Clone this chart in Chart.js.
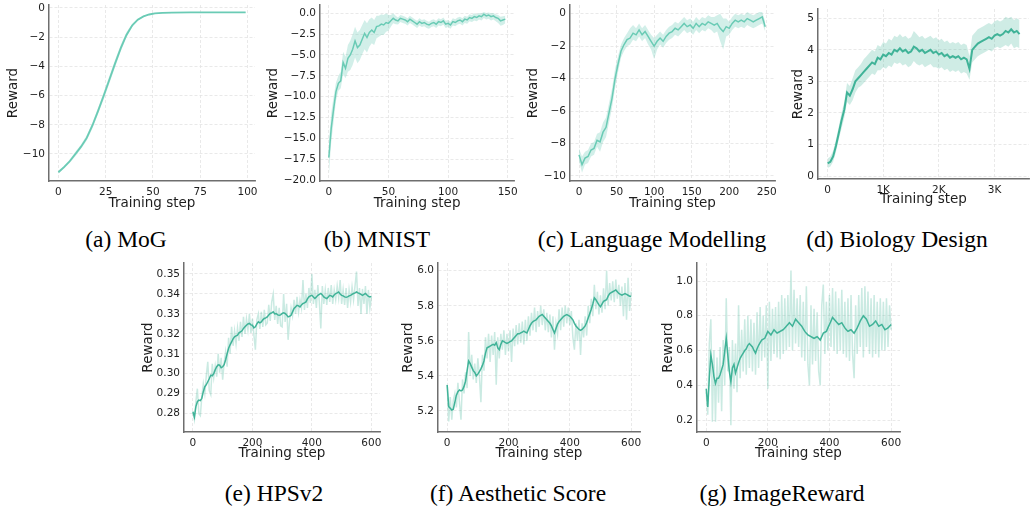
<!DOCTYPE html>
<html><head><meta charset="utf-8">
<script src="https://cdn.jsdelivr.net/npm/chart.js@4.4.1/dist/chart.umd.min.js"></script>
<style>
html,body{margin:0;padding:0;background:#fff;}
body{width:1030px;height:508px;position:relative;overflow:hidden;}
canvas{position:absolute;}
.cap{position:absolute;font-family:'Liberation Serif','Times New Roman',serif;font-size:23.5px;line-height:24px;color:#000;white-space:nowrap;transform:translateX(-50%);}
</style></head><body>
<div class="cap" style="left:126px;top:227px">(a) MoG</div>
<div class="cap" style="left:377px;top:227px">(b) MNIST</div>
<div class="cap" style="left:652px;top:227px">(c) Language Modelling</div>
<div class="cap" style="left:897px;top:227px">(d) Biology Design</div>
<div class="cap" style="left:274px;top:481px">(e) HPSv2</div>
<div class="cap" style="left:518px;top:481px">(f) Aesthetic Score</div>
<div class="cap" style="left:782px;top:481px">(g) ImageReward</div>
<script>
// ---------- (a) MoG ----------
const aSteps = [0,3,6,9,12,15,18,21,24,27,30,33,36,39,42,45,48,51,55,60,70,80,90,99];
const aMean = [-11.25,-10.9,-10.5,-10.0,-9.5,-8.9,-8.05,-7.05,-6.0,-4.9,-3.8,-2.75,-1.85,-1.2,-0.8,-0.58,-0.45,-0.38,-0.34,-0.32,-0.31,-0.31,-0.31,-0.31];
const aLow = [-11.35,-11.0,-10.62,-10.15,-9.65,-9.08,-8.25,-7.27,-6.25,-5.15,-4.05,-2.97,-2.03,-1.32,-0.88,-0.63,-0.49,-0.41,-0.37,-0.35,-0.34,-0.34,-0.34,-0.34];
const aHigh = [-11.15,-10.8,-10.38,-9.85,-9.35,-8.72,-7.85,-6.83,-5.75,-4.65,-3.55,-2.53,-1.67,-1.08,-0.72,-0.53,-0.41,-0.35,-0.31,-0.29,-0.28,-0.28,-0.28,-0.28];
const aXTicks = [0,25,50,75,100];
const aYTicks = [-10,-8,-6,-4,-2,0];

// ---------- (b) MNIST ----------
const bSteps = [0,2,4,6,8,10,12,14,16,18,20,22,24,26,28,30,32,34,36,38,40,42,44,46,48,50,52,54,56,58,60,62,64,66,68,70,72,74,76,78,80,82,84,86,88,90,92,94,96,98,100,102,104,106,108,110,112,114,116,118,120,122,124,126,128,130,132,134,136,138,140,142,144,146,148];
const bMean = [-17.3,-13.8,-11.5,-9.4,-8.4,-8.1,-5.9,-6.6,-5.4,-5.0,
 -4.3,-3.3,-4.1,-3.8,-3.1,-2.4,-2.9,-2.3,-2.0,-2.3,
 -1.6,-1.5,-1.3,-1.4,-1.1,-1.2,-0.9,-0.6,-0.8,-0.9,
 -0.6,-0.7,-0.8,-1.0,-0.7,-0.9,-1.1,-1.3,-1.0,-1.2,
 -1.1,-1.3,-1.4,-1.2,-1.1,-1.3,-1.0,-1.1,-0.9,-1.3,
 -1.2,-1.4,-1.0,-1.1,-0.9,-0.8,-1.0,-0.7,-0.8,-0.5,
 -0.6,-0.4,-0.5,-0.3,-0.4,-0.1,-0.3,-0.2,-0.4,-0.3,
 -0.5,-0.6,-0.9,-0.8,-0.7];
const bLow = [-19.5,-15.5,-13.0,-10.5,-9.3,-9.0,-7.3,-7.8,-7.0,-6.8,
 -6.2,-5.3,-6.0,-5.6,-4.9,-4.3,-4.7,-4.0,-3.6,-3.8,
 -3.0,-2.8,-2.6,-2.6,-2.2,-2.1,-1.6,-1.2,-1.3,-1.35,
 -1.05,-1.15,-1.25,-1.45,-1.15,-1.35,-1.55,-1.75,-1.45,-1.65,
 -1.55,-1.75,-1.85,-1.65,-1.55,-1.75,-1.45,-1.55,-1.35,-1.75,
 -1.65,-1.85,-1.45,-1.55,-1.35,-1.25,-1.45,-1.15,-1.25,-0.95,
 -1.05,-0.85,-0.95,-0.75,-0.85,-0.55,-0.75,-0.65,-0.85,-0.75,
 -0.95,-1.15,-1.5,-1.4,-1.2];
const bHigh = [-15.5,-12.0,-10.0,-8.3,-7.5,-7.0,-4.6,-5.2,-3.8,-3.3,
 -2.5,-1.6,-2.3,-2.0,-1.4,-0.8,-1.2,-0.7,-0.5,-0.8,
 -0.3,-0.3,-0.1,-0.2,0.0,-0.2,-0.2,0.0,-0.3,-0.5,
 -0.2,-0.3,-0.4,-0.6,-0.3,-0.5,-0.7,-0.9,-0.6,-0.8,
 -0.7,-0.9,-1.0,-0.8,-0.7,-0.9,-0.6,-0.7,-0.5,-0.9,
 -0.8,-1.0,-0.6,-0.7,-0.5,-0.4,-0.6,-0.3,-0.4,-0.1,
 -0.2,0.0,-0.1,0.05,0.0,0.15,0.05,0.1,0.0,0.05,
 -0.1,-0.2,-0.4,-0.35,-0.3];
const bXTicks = [0,50,100,150];
const bYTicks = [-20,-17.5,-15,-12.5,-10,-7.5,-5,-2.5,0];

// ---------- (c) Language Modelling ----------
const cSteps = [0,4,8,12,16,20,24,28,32,36,40,44,48,52,56,60,64,68,72,76,80,84,88,92,96,100,104,108,112,116,120,124,128,132,136,140,144,148,152,156,160,164,168,172,176,180,184,188,192,196,200,204,208,212,216,220,224,228,232,236,240,244,248];
const cMean = [-8.7,-9.3,-8.9,-8.8,-8.4,-8.3,-7.8,-7.9,-7.3,-7.0,
 -6.1,-5.2,-4.0,-3.1,-2.3,-1.9,-1.6,-1.5,-1.2,-1.3,
 -1.0,-1.3,-1.1,-1.4,-1.7,-2.0,-1.7,-1.5,-1.7,-1.4,
 -1.2,-1.1,-0.9,-1.0,-0.8,-0.6,-0.8,-0.7,-0.9,-0.6,
 -0.8,-0.6,-0.7,-0.5,-0.6,-0.7,-0.6,-0.9,-1.1,-0.8,
 -0.9,-0.6,-0.4,-0.5,-0.4,-0.5,-0.3,-0.4,-0.5,-0.4,
 -0.3,-0.2,-0.8];
const cLow = [-9.1,-9.8,-9.3,-9.2,-8.8,-8.7,-8.2,-8.5,-7.9,-7.6,
 -6.7,-5.8,-4.6,-3.6,-2.7,-2.3,-2.0,-1.9,-1.6,-1.7,
 -1.4,-1.7,-1.5,-1.9,-2.2,-2.8,-2.2,-1.9,-2.1,-1.8,
 -1.6,-1.5,-1.3,-1.4,-1.2,-1.0,-1.2,-1.1,-1.3,-1.0,
 -1.2,-1.0,-1.1,-0.9,-1.0,-1.2,-1.1,-1.7,-2.2,-1.4,
 -1.3,-1.0,-0.8,-0.9,-0.8,-0.9,-0.7,-0.8,-0.9,-0.8,
 -0.7,-0.6,-1.1];
const cHigh = [-8.3,-8.8,-8.5,-8.4,-8.0,-7.9,-7.4,-7.3,-6.7,-6.4,
 -5.5,-4.6,-3.4,-2.6,-1.9,-1.5,-1.2,-0.9,-0.7,-0.9,
 -0.6,-0.9,-0.7,-1.0,-1.3,-1.5,-1.3,-1.1,-1.3,-1.0,
 -0.8,-0.7,-0.5,-0.6,-0.4,-0.2,-0.4,-0.3,-0.5,-0.2,
 -0.4,-0.2,-0.3,-0.1,-0.2,-0.2,-0.1,0.0,-0.3,-0.3,
 -0.5,-0.2,0.0,-0.1,0.0,-0.1,0.1,0.0,-0.1,0.0,
 0.1,0.1,-0.5];
const cXTicks = [0,50,100,150,200,250];
const cYTicks = [-10,-8,-6,-4,-2,0];

// ---------- (d) Biology Design ----------
const dSteps = [0,50,100,150,200,250,300,350,400,450,500,550,600,650,700,750,800,850,900,950,1000,1050,1100,1150,1200,1250,1300,1350,1400,1450,1500,1550,1600,1650,1700,1750,1800,1850,1900,1950,2000,2050,2100,2150,2200,2250,2300,2350,2400,2450,2500,2550,2600,2650,2700,2750,2800,2850,2900,2950,3000,3050,3100,3150,3200,3250,3300,3350,3400,3450];
const dMean = [0.40,0.45,0.62,0.95,1.35,1.75,2.10,2.65,2.55,2.75,
 3.00,3.10,3.20,3.30,3.40,3.50,3.60,3.55,3.75,3.70,
 3.85,3.80,3.90,3.85,4.00,3.95,4.05,3.95,4.00,3.90,
 3.95,4.10,4.05,3.95,4.00,3.90,3.95,4.00,3.90,3.95,
 3.85,3.90,3.80,3.85,3.75,3.80,3.75,3.80,3.70,3.75,
 3.70,3.40,4.00,4.10,4.20,4.25,4.30,4.35,4.40,4.35,
 4.45,4.50,4.45,4.50,4.60,4.55,4.65,4.55,4.60,4.50];
const dLow = [0.25,0.30,0.45,0.75,1.15,1.50,1.85,2.35,2.25,2.40,
 2.65,2.80,2.85,2.95,3.05,3.15,3.25,3.20,3.35,3.35,
 3.45,3.40,3.50,3.45,3.60,3.55,3.60,3.50,3.55,3.45,
 3.50,3.65,3.55,3.50,3.55,3.45,3.50,3.55,3.45,3.45,
 3.40,3.45,3.35,3.40,3.30,3.35,3.30,3.35,3.25,3.30,
 3.25,3.05,3.60,3.70,3.80,3.85,3.90,3.95,4.00,3.95,
 4.05,4.10,4.05,4.10,4.15,4.10,4.20,4.05,4.10,4.05];
const dHigh = [0.55,0.62,0.80,1.15,1.55,2.00,2.35,2.95,2.85,3.10,
 3.35,3.45,3.55,3.70,3.80,3.90,4.00,3.95,4.15,4.10,
 4.25,4.20,4.35,4.30,4.45,4.40,4.50,4.40,4.45,4.35,
 4.40,4.60,4.50,4.40,4.45,4.35,4.40,4.45,4.35,4.40,
 4.30,4.35,4.25,4.30,4.20,4.25,4.20,4.25,4.15,4.20,
 4.15,3.80,4.45,4.55,4.65,4.70,4.75,4.80,4.85,4.80,
 4.90,4.95,4.90,4.95,5.05,5.00,5.05,4.95,5.00,4.95];
const dXTicks = [0,1000,2000,3000];
const dXLabels = ['0','1K','2K','3K'];
const dYTicks = [0,1,2,3,4,5];

// ---------- bottom row (shared steps) ----------
const imgSteps = [0,5,10,15,20,25,30,35,40,45,50,55,60,65,70,75,80,85,90,95,100,105,110,115,120,125,130,135,140,145,150,155,160,165,170,175,180,185,190,195,200,205,210,215,220,225,230,235,240,245,250,255,260,265,270,275,280,285,290,295,300,305,310,315,320,325,330,335,340,345,350,355,360,365,370,375,380,385,390,395,400,405,410,415,420,425,430,435,440,445,450,455,460,465,470,475,480,485,490,495,500,505,510,515,520,525,530,535,540,545,550,555,560,565,570,575,580,585,590,595,600];
const imgXTicks = [0,200,400,600];

// (e) HPSv2
const eMean = [0.2810,0.2783,0.2835,0.2860,0.2868,0.2865,0.2877,0.2910,0.2935,0.2945,
 0.2960,0.2975,0.2993,0.2990,0.3000,0.3020,0.3035,0.3045,0.3043,0.3030,
 0.3035,0.3045,0.3070,0.3100,0.3128,0.3145,0.3160,0.3175,0.3185,0.3190,
 0.3193,0.3205,0.3210,0.3215,0.3227,0.3235,0.3243,0.3250,0.3252,0.3245,
 0.3243,0.3230,0.3235,0.3250,0.3260,0.3255,0.3260,0.3270,0.3277,0.3280,
 0.3285,0.3295,0.3302,0.3305,0.3310,0.3300,0.3302,0.3295,0.3293,0.3295,
 0.3302,0.3305,0.3302,0.3295,0.3285,0.3288,0.3293,0.3310,0.3327,0.3335,
 0.3343,0.3340,0.3335,0.3345,0.3352,0.3355,0.3360,0.3375,0.3385,0.3390,
 0.3393,0.3385,0.3377,0.3385,0.3393,0.3398,0.3402,0.3395,0.3385,0.3380,
 0.3377,0.3385,0.3393,0.3390,0.3385,0.3395,0.3402,0.3405,0.3410,0.3400,
 0.3393,0.3390,0.3385,0.3383,0.3385,0.3390,0.3393,0.3398,0.3402,0.3405,
 0.3410,0.3405,0.3402,0.3398,0.3393,0.3398,0.3402,0.3395,0.3388,0.3385,
 0.3388];
const eRaw = [0.2805,0.2770,0.2860,0.2925,0.2800,0.2790,0.2885,0.2950,0.2900,0.2990,
 0.3060,0.2915,0.2895,0.3050,0.2980,0.3040,0.2985,0.3100,0.3005,0.3080,
 0.2970,0.3055,0.3110,0.3035,0.3180,0.3100,0.3235,0.3140,0.3215,0.3150,
 0.3230,0.3165,0.3260,0.3185,0.3285,0.3200,0.3275,0.3220,0.3300,0.3205,
 0.3275,0.3195,0.3120,0.3270,0.3300,0.3225,0.3310,0.3235,0.3320,0.3245,
 0.3255,0.3345,0.3265,0.3360,0.3400,0.3270,0.3340,0.3250,0.3330,0.3240,
 0.3235,0.3400,0.3260,0.3350,0.3170,0.3265,0.3330,0.3290,0.3370,0.3300,
 0.3385,0.3310,0.3370,0.3330,0.3470,0.3320,0.3400,0.3330,0.3430,0.3355,
 0.3500,0.3350,0.3420,0.3330,0.3445,0.3360,0.3227,0.3440,0.3350,0.3420,
 0.3345,0.3430,0.3360,0.3445,0.3350,0.3420,0.3370,0.3440,0.3380,0.3470,
 0.3350,0.3420,0.3345,0.3430,0.3330,0.3420,0.3360,0.3435,0.3370,0.3440,
 0.3512,0.3340,0.3430,0.3300,0.3425,0.3350,0.3440,0.3300,0.3420,0.3330,
 0.3385];
const eYTicks = [0.28,0.29,0.30,0.31,0.32,0.33,0.34,0.35];

// (f) Aesthetic Score
const fMean = [5.348,5.225,5.215,5.205,5.21,5.25,5.29,5.31,5.32,5.315,
 5.32,5.34,5.37,5.43,5.485,5.47,5.45,5.43,5.42,5.40,
 5.41,5.425,5.44,5.46,5.485,5.53,5.56,5.565,5.57,5.575,
 5.58,5.575,5.59,5.56,5.55,5.58,5.60,5.595,5.59,5.585,
 5.59,5.595,5.60,5.61,5.62,5.63,5.64,5.64,5.645,5.65,
 5.655,5.65,5.645,5.665,5.685,5.70,5.71,5.715,5.72,5.73,
 5.74,5.745,5.75,5.74,5.73,5.72,5.71,5.70,5.685,5.665,
 5.645,5.67,5.695,5.71,5.72,5.73,5.74,5.745,5.75,5.745,
 5.74,5.73,5.72,5.70,5.685,5.675,5.665,5.66,5.665,5.675,
 5.685,5.705,5.73,5.755,5.78,5.81,5.845,5.835,5.82,5.805,
 5.795,5.81,5.825,5.83,5.835,5.855,5.87,5.875,5.88,5.885,
 5.89,5.88,5.87,5.865,5.86,5.865,5.87,5.865,5.86,5.855,
 5.855];
const fRaw = [5.35,5.14,5.28,5.15,5.26,5.30,5.22,5.36,5.25,5.15,
 5.38,5.30,5.42,5.33,5.65,5.40,5.52,5.38,5.47,5.36,
 5.50,5.40,5.25,5.52,5.43,5.62,5.50,5.64,5.48,5.63,
 5.52,5.65,5.35,5.62,5.50,5.64,5.55,5.66,5.52,5.64,
 5.54,5.66,5.48,5.67,5.57,5.69,5.58,5.70,5.59,5.71,
 5.58,5.72,5.60,5.74,5.63,5.76,5.66,5.79,5.65,5.77,
 5.68,5.80,5.69,5.78,5.66,5.76,5.65,5.75,5.62,5.74,
 5.55,5.70,5.64,5.78,5.66,5.79,5.68,5.80,5.70,5.79,
 5.69,5.77,5.62,5.55,5.70,5.60,5.72,5.52,5.70,5.62,
 5.74,5.63,5.80,5.70,5.84,5.74,5.92,5.78,5.88,5.75,
 5.86,5.76,5.90,5.78,6.00,5.80,5.93,5.83,5.94,5.82,
 5.95,5.84,5.92,5.80,5.91,5.74,5.93,5.72,5.96,5.77,
 5.88];
const fYTicks = [5.2,5.4,5.6,5.8,6.0];

// (g) ImageReward
const gMean = [0.38,0.275,0.44,0.575,0.52,0.45,0.41,0.44,0.44,0.46,
 0.49,0.52,0.595,0.67,0.575,0.48,0.42,0.50,0.52,0.47,
 0.50,0.53,0.555,0.57,0.585,0.60,0.61,0.63,0.64,0.63,
 0.62,0.60,0.585,0.61,0.63,0.645,0.66,0.665,0.67,0.69,
 0.71,0.70,0.69,0.705,0.72,0.71,0.70,0.705,0.71,0.715,
 0.72,0.73,0.74,0.75,0.76,0.75,0.74,0.76,0.78,0.77,
 0.76,0.75,0.74,0.725,0.71,0.70,0.69,0.685,0.68,0.675,
 0.67,0.675,0.68,0.67,0.66,0.68,0.70,0.705,0.71,0.73,
 0.75,0.77,0.79,0.78,0.77,0.76,0.75,0.755,0.76,0.745,
 0.73,0.72,0.71,0.715,0.72,0.71,0.70,0.715,0.73,0.75,
 0.77,0.785,0.80,0.79,0.78,0.76,0.74,0.745,0.75,0.76,
 0.77,0.755,0.74,0.745,0.75,0.735,0.72,0.725,0.73,0.74,
 0.75];
const gRaw = [0.36,0.23,0.64,0.78,0.19,0.60,0.19,0.56,0.30,0.62,
 0.25,0.66,0.40,0.90,0.48,0.62,0.17,0.66,0.38,0.64,
 0.36,0.86,0.44,0.72,0.48,0.78,0.46,0.80,0.50,0.78,
 0.48,0.76,0.46,0.82,0.50,0.85,0.54,0.80,0.56,0.86,
 0.38,0.88,0.54,0.84,0.58,0.85,0.56,0.88,0.55,0.92,
 0.58,0.90,0.60,0.92,0.62,1.06,0.60,0.95,0.64,0.90,
 0.62,0.92,0.56,0.88,0.54,0.97,0.52,0.40,0.86,0.52,
 0.84,0.54,0.82,0.48,0.40,0.86,0.98,0.58,0.88,0.60,
 0.92,0.62,0.96,0.60,0.94,0.58,0.90,0.60,0.95,0.58,
 0.88,0.56,0.90,0.54,0.92,0.58,0.44,0.86,0.58,0.92,
 0.62,0.96,0.56,0.97,0.62,0.94,0.58,0.90,0.56,0.92,
 0.58,0.88,0.56,0.90,0.60,0.88,0.60,0.90,0.62,0.86,
 0.72];
const gYTicks = [0.2,0.4,0.6,0.8,1.0];

// ---------- drawing ----------
const LIGHT = '#6acbb5', LIGHT_FILL = 'rgba(106,203,181,0.30)';
const DARK = '#40b398', DARK_FILL = 'rgba(64,179,152,0.25)', DARK_RAW = 'rgba(64,179,152,0.28)';
const FONT = "'DejaVu Sans', sans-serif";

function pts(xs, ys) { return xs.map((x, i) => ({x: x, y: ys[i]})); }
function fmt(dec) { return v => Number(v).toFixed(dec).replace('-', '\u2212'); }

function bandSets(xs, mean, low, high, col, fill, lw) {
  return [
    {data: pts(xs, mean), borderColor: col, borderWidth: lw, fill: false},
    {data: pts(xs, low), borderColor: 'rgba(0,0,0,0)', borderWidth: 0, fill: false},
    {data: pts(xs, high), borderColor: 'rgba(0,0,0,0)', borderWidth: 0, backgroundColor: fill, fill: '-1'}
  ];
}
function rawSets(xs, mean, raw) {
  return [
    {data: pts(xs, mean), borderColor: DARK, borderWidth: 1.5, fill: false},
    {data: pts(xs, raw), borderColor: DARK_RAW, borderWidth: 1.5, fill: false}
  ];
}

function panel(p) {
  const [L, T, R, B] = p.rect;
  const cl = Math.round(p.ylabX - 10.1);
  const ct = T - 12;
  const cb = Math.round(p.xlabY + 10.1);
  const cr = R + 8;
  const cv = document.createElement('canvas');
  cv.width = cr - cl; cv.height = cb - ct;
  cv.style.left = cl + 'px'; cv.style.top = ct + 'px';
  cv.style.width = (cr - cl) + 'px'; cv.style.height = (cb - ct) + 'px';
  document.body.appendChild(cv);
  const yw = L - cl, xh = cb - B;
  const tickFont = {family: FONT, size: 10.5};
  const titleFont = {family: FONT, size: 13.5};
  const grid = {color: '#e3e3e3', lineWidth: 0.8, drawTicks: false};
  const border = {display: true, color: '#6e6e6e', width: 1.5, dash: [3, 2]};
  new Chart(cv, {
    type: 'line',
    data: {datasets: p.datasets},
    options: {
      responsive: false, animation: false, devicePixelRatio: 1,
      layout: {padding: {left: 0, top: 12, right: 8, bottom: 0}},
      plugins: {legend: {display: false}, tooltip: {enabled: false}},
      elements: {point: {radius: 0}, line: {tension: 0}},
      scales: {
        x: {
          type: 'linear', min: p.xMin, max: p.xMax,
          afterFit: s => { s.height = xh; },
          afterBuildTicks: s => { s.ticks = p.xTicks.map(v => ({value: v})); },
          ticks: {callback: p.xFmt, font: tickFont, color: '#1e1e1e', padding: 5, maxRotation: 0, autoSkip: false},
          grid: grid, border: border,
          title: {display: true, text: 'Training step', font: titleFont, color: '#1e1e1e', padding: {top: 0, bottom: 2}}
        },
        y: {
          type: 'linear', min: p.yMin, max: p.yMax,
          afterFit: s => { s.width = yw; },
          afterBuildTicks: s => { s.ticks = p.yTicks.map(v => ({value: v})); },
          ticks: {callback: p.yFmt, font: tickFont, color: '#1e1e1e', padding: 4, autoSkip: false},
          grid: grid, border: border,
          title: {display: true, text: 'Reward', font: titleFont, color: '#1e1e1e', padding: {top: 2, bottom: 0}}
        }
      }
    }
  });
}

panel({rect: [49, 5, 255, 181], ylabX: 13, xlabY: 204, xMin: -4.95, xMax: 103.95, yMin: -11.85, yMax: 0.2,
  xTicks: aXTicks, yTicks: aYTicks, xFmt: fmt(0), yFmt: fmt(0),
  datasets: bandSets(aSteps, aMean, aLow, aHigh, LIGHT, LIGHT_FILL, 1.8)});
panel({rect: [320, 5, 515, 181], ylabX: 273, xlabY: 204, xMin: -7.4, xMax: 155.4, yMin: -20.12, yMax: 1.0,
  xTicks: bXTicks, yTicks: bYTicks, xFmt: fmt(0), yFmt: fmt(1),
  datasets: bandSets(bSteps, bMean, bLow, bHigh, LIGHT, LIGHT_FILL, 1.5)});
panel({rect: [570, 5, 775, 181], ylabX: 533, xlabY: 204, xMin: -12, xMax: 261, yMin: -10.31, yMax: 0.536,
  xTicks: cXTicks, yTicks: cYTicks, xFmt: fmt(0), yFmt: fmt(0),
  datasets: bandSets(cSteps, cMean, cLow, cHigh, LIGHT, LIGHT_FILL, 1.5)});
panel({rect: [818, 9, 1029, 179], ylabX: 798, xlabY: 200, xMin: -172, xMax: 3620, yMin: -0.095, yMax: 5.295,
  xTicks: dXTicks, yTicks: dYTicks, xFmt: (v) => dXLabels[dXTicks.indexOf(v)], yFmt: fmt(0),
  datasets: bandSets(dSteps, dMean, dLow, dHigh, DARK, DARK_FILL, 2)});
panel({rect: [184, 263, 380, 432], ylabX: 148, xlabY: 454, xMin: -29.95, xMax: 628.95, yMin: 0.2708, yMax: 0.3555,
  xTicks: imgXTicks, yTicks: eYTicks, xFmt: fmt(0), yFmt: fmt(2),
  datasets: rawSets(imgSteps, eMean, eRaw)});
panel({rect: [438, 263, 640, 432], ylabX: 408, xlabY: 454, xMin: -29.95, xMax: 628.95, yMin: 5.08, yMax: 6.044,
  xTicks: imgXTicks, yTicks: fYTicks, xFmt: fmt(0), yFmt: fmt(1),
  datasets: rawSets(imgSteps, fMean, fRaw)});
panel({rect: [697, 263, 900, 432], ylabX: 668, xlabY: 454, xMin: -29.95, xMax: 628.95, yMin: 0.131, yMax: 1.1036,
  xTicks: imgXTicks, yTicks: gYTicks, xFmt: fmt(0), yFmt: fmt(1),
  datasets: rawSets(imgSteps, gMean, gRaw)});
</script>
</body></html>
